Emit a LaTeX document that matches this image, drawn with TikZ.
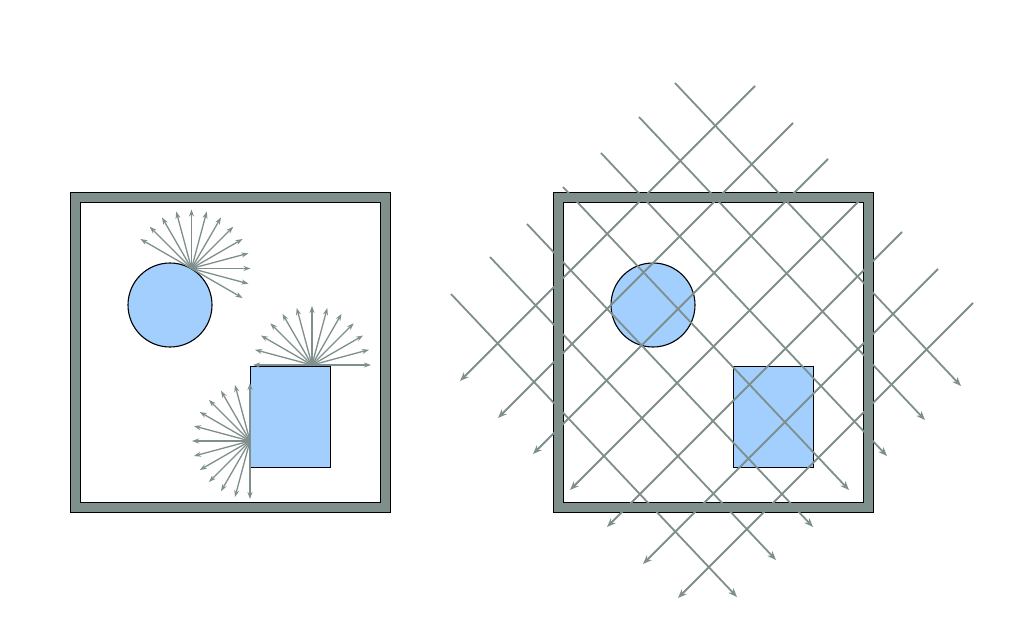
\documentclass[tikz,border=0pt]{standalone}
\usetikzlibrary{arrows.meta,calc}
\definecolor{framegrey}{RGB}{127,143,140}
\definecolor{objblue}{RGB}{162,207,254}
\begin{document}
\begin{tikzpicture}[x=1pt,y=-1pt,
  frameout/.style={fill=framegrey,draw=black,line width=0.8pt},
  framein/.style={fill=white,draw=black,line width=0.8pt},
  objcirc/.style={circle,fill=objblue,draw=black,line width=1.1pt,minimum size=84pt,inner sep=0pt},
  objrect/.style={rectangle,fill=objblue,draw=black,line width=0.8pt,minimum width=80pt,minimum height=101pt,inner sep=0pt},
  ray/.style={draw=framegrey,line width=1.3pt,-{Stealth[length=7pt,width=5pt]}},
  hatch/.style={draw=framegrey,line width=1.8pt,-{Stealth[length=9pt,width=7pt]}}]
\useasboundingbox (0,0) rectangle (1034,642);

% ---------- left picture ----------
\draw[frameout] (70,192) rectangle (390,512);
\draw[framein] (80,202) rectangle (380,502);
\node[objcirc] (c1) at (170,305) {};
\node[objrect] (r1) at (290,416.5) {};
\coordinate (o1) at (191.5,268.5);
\coordinate (o2) at (312,365);
\coordinate (o3) at (250,441);
\foreach \a in {-30,-15,...,150} \draw[ray] (o1) -- ($(o1)+(\a:59pt)$);
\foreach \a in {0,15,...,180} \draw[ray] (o2) -- ($(o2)+(\a:59pt)$);
\foreach \a in {90,105,...,270} \draw[ray] (o3) -- ($(o3)+(\a:58pt)$);

% ---------- right picture ----------
\draw[frameout] (553,192) rectangle (873,512);
\draw[framein] (563,202) rectangle (863,502);
\node[objcirc] (c2) at (653,305) {};
\node[objrect] (r2) at (773,416.5) {};
% lines going down-right
\foreach \sx/\sy in {451/294,490/257,527/224,563/187,601/153,639/117,675/83}
  \draw[hatch] (\sx,\sy) -- ++(286,303);
% lines going down-left
\foreach \sx/\sy in {755/86,793/123,828/159,865/195,902/232,938/269,973/303}
  \draw[hatch] (\sx,\sy) -- ++(-295,295);
\end{tikzpicture}
\end{document}
